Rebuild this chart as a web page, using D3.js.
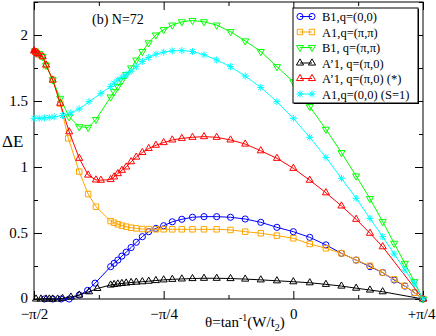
<!DOCTYPE html>
<html>
<head>
<meta charset="utf-8">
<script src="https://cdn.jsdelivr.net/npm/d3@7"></script>
<style>
  body { margin: 0; background: #fff; }
  text { font-family: "Liberation Serif", "Times New Roman", serif; fill: #000; }
</style>
</head>
<body>
<div id="chart"></div>
<script>
// theta = tan^-1(W/t2), in degrees (-90 = -pi/2, 45 = +pi/4)
// W/t2 = -2.0 ... 1.0 in steps of 0.1
const thetaGrid = [-63.4, -62.2, -60.9, -59.5, -58.0, -56.3, -54.5, -52.4, -50.2, -47.7, -45.0,
  -42.0, -38.7, -35.0, -31.0, -26.6, -21.8, -16.7, -11.3, -5.7, 0,
  5.7, 11.3, 16.7, 21.8, 26.6, 31.0, 35.0, 38.7, 42.0, 45];

// extra points near -pi/2, per set
const thetaLeftB1 = [-86.4, -83.5, -80.6, -77.8, -74.3, -71.4, -68.8];
const thetaLeftA1 = [-89.7, -87.0, -85.8, -83.5, -80.9, -78.1, -74.3, -71.2, -68.5];
const thetaLeftB1pp = [-89.7, -88.3, -87.0, -85.8, -83.5, -80.9, -77.8, -74.3, -71.2, -68.5];
const thetaLeftAp1 = [-89.3, -87.6, -85.8, -84.7, -83.5, -81.8, -80.1, -77.2, -74.3, -70.9, -68.0];
const thetaLeftAp1s = [-90, -89.3, -88.7, -88.2, -87.0, -85.8, -83.5, -80.9, -77.8, -74.3, -71.2, -68.5, -66.8];
const thetaLeftS1 = [-90, -88.2, -86.4, -84.7, -83.0, -80.1, -77.2, -74.3, -70.9, -66.8];

// Delta E values
const dE_B1 = [0, 0, 0, 0, 0.03, 0.065, 0.12,
  0.245, 0.27, 0.295, 0.325, 0.355, 0.39, 0.43, 0.472, 0.51, 0.535, 0.555,
  0.585, 0.604, 0.619, 0.624, 0.624, 0.619, 0.606, 0.581, 0.543, 0.51,
  0.467, 0.41, 0.346, 0.295, 0.245, 0.2, 0.144, 0.098, 0.048, 0];
const dE_A1 = [1.875, 1.836, 1.77, 1.66, 1.48, 1.217, 0.965, 0.795, 0.699,
  0.59, 0.578, 0.566, 0.556, 0.548, 0.54, 0.535, 0.53, 0.53, 0.528, 0.528,
  0.528, 0.528, 0.528, 0.528, 0.528, 0.523, 0.51, 0.498, 0.48, 0.46,
  0.417, 0.384, 0.346, 0.295, 0.252, 0.2, 0.15, 0.1, 0.048, 0];
const dE_B1pp = [1.88, 1.86, 1.836, 1.77, 1.66, 1.52, 1.38, 1.305, 1.30, 1.36,
  1.53, 1.57, 1.61, 1.655, 1.70, 1.75, 1.81, 1.875, 1.94, 2.0, 2.04,
  2.075, 2.10, 2.11, 2.10, 2.075, 2.025, 1.955, 1.875, 1.76, 1.645,
  1.457, 1.286, 1.109, 0.932, 0.76, 0.586, 0.422, 0.27, 0.131, 0];
const dE_Ap1 = [0, 0, 0, 0, 0, 0, 0.005, 0.015, 0.03, 0.055, 0.08,
  0.106, 0.11, 0.114, 0.118, 0.121, 0.125, 0.128, 0.131, 0.135, 0.14, 0.145,
  0.149, 0.152, 0.155, 0.157, 0.157, 0.155, 0.151, 0.145, 0.138, 0.131,
  0.123, 0.111, 0.098, 0.082, 0.068, 0.055, 0];
const dE_Ap1s = [1.88, 1.87, 1.86, 1.85, 1.836, 1.773, 1.659, 1.483, 1.267, 1.066, 0.939, 0.902, 0.90,
  0.905, 0.925, 0.95, 0.975, 1.0, 1.04, 1.075, 1.11, 1.14, 1.165, 1.185,
  1.205, 1.217, 1.225, 1.23, 1.225, 1.205, 1.174, 1.123, 1.066, 0.99,
  0.90, 0.805, 0.705, 0.604, 0.498, 0.396, 0];
const dE_S1 = [1.369, 1.369, 1.372, 1.375, 1.38, 1.39, 1.41, 1.44, 1.495, 1.558,
  1.61, 1.635, 1.66, 1.68, 1.70, 1.725, 1.76, 1.80, 1.83, 1.855, 1.87,
  1.88, 1.882, 1.875, 1.85, 1.811, 1.76, 1.689, 1.603, 1.495, 1.369,
  1.225, 1.073, 0.914, 0.763, 0.611, 0.472, 0.341, 0.22, 0.119, 0];

const legendLabels = ["B1,q=(0,0)", "A1,q=(\u03c0,\u03c0)", "B1, q=(\u03c0,\u03c0)",
  "A\u20191, q=(\u03c0,0)", "A\u20191, q=(\u03c0,0) (*)", "A1,q=(0,0) (S=1)"];
const colors = ["#0000ff", "#ffa500", "#00ff00", "#000000", "#ff0000", "#00ffff"];
const markers = ["circle", "square", "down", "up", "up", "star"];

const xTicks = [-90, -45, 0, 45];
const xTickLabels = ["\u2212\u03c0/2", "\u2212\u03c0/4", "0", "+\u03c0/4"];
const xMinor = [-67.5, -22.5, 22.5];
const yTicks = [0, 0.5, 1, 1.5, 2];
const yMinor = [0.25, 0.75, 1.25, 1.75, 2.25];

const shortGrid = thetaGrid.slice(0, 27).concat([45]); // sets that stop at W/t2=0.6
const sets = [
  { theta: thetaLeftB1.concat(thetaGrid), dE: dE_B1 },
  { theta: thetaLeftA1.concat(thetaGrid), dE: dE_A1 },
  { theta: thetaLeftB1pp.concat(thetaGrid), dE: dE_B1pp },
  { theta: thetaLeftAp1.concat(shortGrid), dE: dE_Ap1 },
  { theta: thetaLeftAp1s.concat(shortGrid), dE: dE_Ap1s, solidFirst: true },
  { theta: thetaLeftS1.concat(thetaGrid), dE: dE_S1 }
].map((s, i) => ({
  label: legendLabels[i], color: colors[i], marker: markers[i], solidFirst: !!s.solidFirst,
  points: s.theta.map((t, j) => [t, s.dE[j]])
}));

const W = 436, H = 336;
const mLeft = 34, mRight = 423, mTop = 2, mBottom = 299;

const svg = d3.select("#chart").append("svg")
  .attr("width", W).attr("height", H);

const x = d3.scaleLinear().domain([-90, 45]).range([mLeft, mRight]);
const y = d3.scaleLinear().domain([0, 2.25]).range([mBottom, mTop]);

// marker shapes
const markerPath = (type) => {
  if (type === "circle") return d3.symbol(d3.symbolCircle, 30)();
  if (type === "square") return d3.symbol(d3.symbolSquare, 30)();
  if (type === "up" || type === "down") return d3.symbol(d3.symbolTriangle, 22)();
  // asterisk
  const r = 3.5, d = r * 0.72;
  return `M${-r},0L${r},0M0,${-r}L0,${r}M${-d},${-d}L${d},${d}M${-d},${d}L${d},${-d}`;
};
const markerTransform = (type, px, py) =>
  `translate(${px},${py})` + (type === "down" ? " rotate(180)" : "");

// axes (ticks point inwards, mirrored on top/right)
const tickLen = 8, minorLen = 4;
function axes(g, axisFn, scale, values, len, fmt) {
  const a = axisFn(scale).tickValues(values).tickSizeInner(-len).tickSizeOuter(0);
  a.tickFormat(fmt || (() => ""));
  g.call(a);
  g.select(".domain").remove();
  g.selectAll(".tick line").attr("stroke", "#000");
}

const gx = svg.append("g").attr("transform", `translate(0,${mBottom})`);
axes(gx, d3.axisBottom, x, xTicks, tickLen, (d, i) => xTickLabels[i]);
gx.selectAll(".tick text").attr("font-size", 15).attr("y", 9)
  .style("font-family", "'Liberation Serif', serif")
  .filter(d => d === 45).attr("text-anchor", "end").attr("x", 12);
axes(svg.append("g").attr("transform", `translate(0,${mBottom})`), d3.axisBottom, x, xMinor, minorLen);
axes(svg.append("g").attr("transform", `translate(0,${mTop})`), d3.axisTop, x, xTicks, tickLen);
axes(svg.append("g").attr("transform", `translate(0,${mTop})`), d3.axisTop, x, xMinor, minorLen);

const gy = svg.append("g").attr("transform", `translate(${mLeft},0)`);
axes(gy, d3.axisLeft, y, yTicks, tickLen, d3.format("~g"));
gy.selectAll(".tick text").attr("font-size", 15).attr("x", -6)
  .style("font-family", "'Liberation Serif', serif")
  .filter(d => d === 0).attr("dy", "0.2em");
axes(svg.append("g").attr("transform", `translate(${mLeft},0)`), d3.axisLeft, y, yMinor, minorLen);
axes(svg.append("g").attr("transform", `translate(${mRight},0)`), d3.axisRight, y, yTicks, tickLen);
axes(svg.append("g").attr("transform", `translate(${mRight},0)`), d3.axisRight, y, yMinor, minorLen);

svg.append("rect")
  .attr("x", mLeft).attr("y", mTop)
  .attr("width", mRight - mLeft).attr("height", mBottom - mTop)
  .attr("fill", "none").attr("stroke", "#000").attr("stroke-width", 1);

// data
const line = d3.line().x(d => x(d[0])).y(d => y(d[1]));
const plot = svg.append("g");
sets.forEach(s => {
  const g = plot.append("g");
  g.append("path").datum(s.points)
    .attr("d", line).attr("fill", "none")
    .attr("stroke", s.color).attr("stroke-width", 1);
  g.selectAll("path.m").data(s.points).enter().append("path")
    .attr("class", "m")
    .attr("d", markerPath(s.marker))
    .attr("transform", d => markerTransform(s.marker, x(d[0]), y(d[1])))
    .attr("fill", (d, j) => (s.solidFirst && j === 0) ? s.color : "none")
    .attr("stroke", s.color).attr("stroke-width", 1);
});

// labels
svg.append("text").attr("x", 92).attr("y", 24).attr("font-size", 14).text("(b) N=72");
svg.append("text").attr("x", 2).attr("y", 147).attr("font-size", 17).text("\u0394E");

const xt = svg.append("text").attr("x", 205).attr("y", 327).attr("font-size", 15);
xt.append("tspan").text("\u03b8=tan");
xt.append("tspan").attr("font-size", 10).attr("dy", -6).text("-1");
xt.append("tspan").attr("dy", 6).text("(W/t");
xt.append("tspan").attr("font-size", 10).attr("dy", 4).text("2");
xt.append("tspan").attr("dy", -4).text(")");

// legend
const lg = svg.append("g");
lg.append("rect").attr("x", 294).attr("y", 9).attr("width", 125).attr("height", 95)
  .attr("fill", "#000");
lg.append("rect").attr("x", 293).attr("y", 8).attr("width", 125).attr("height", 95)
  .attr("fill", "#fff").attr("stroke", "#000").attr("stroke-width", 1);
sets.forEach((s, i) => {
  const ly = 16.5 + i * 15.5;
  const row = lg.append("g");
  row.append("line").attr("x1", 300).attr("x2", 312).attr("y1", ly).attr("y2", ly)
    .attr("stroke", s.color);
  [300, 312].forEach(px => row.append("path")
    .attr("d", markerPath(s.marker))
    .attr("transform", markerTransform(s.marker, px, ly))
    .attr("fill", "none").attr("stroke", s.color));
  row.append("text").attr("x", 322).attr("y", ly + 4.5).attr("font-size", 12.5).text(s.label);
});
</script>
</body>
</html>
